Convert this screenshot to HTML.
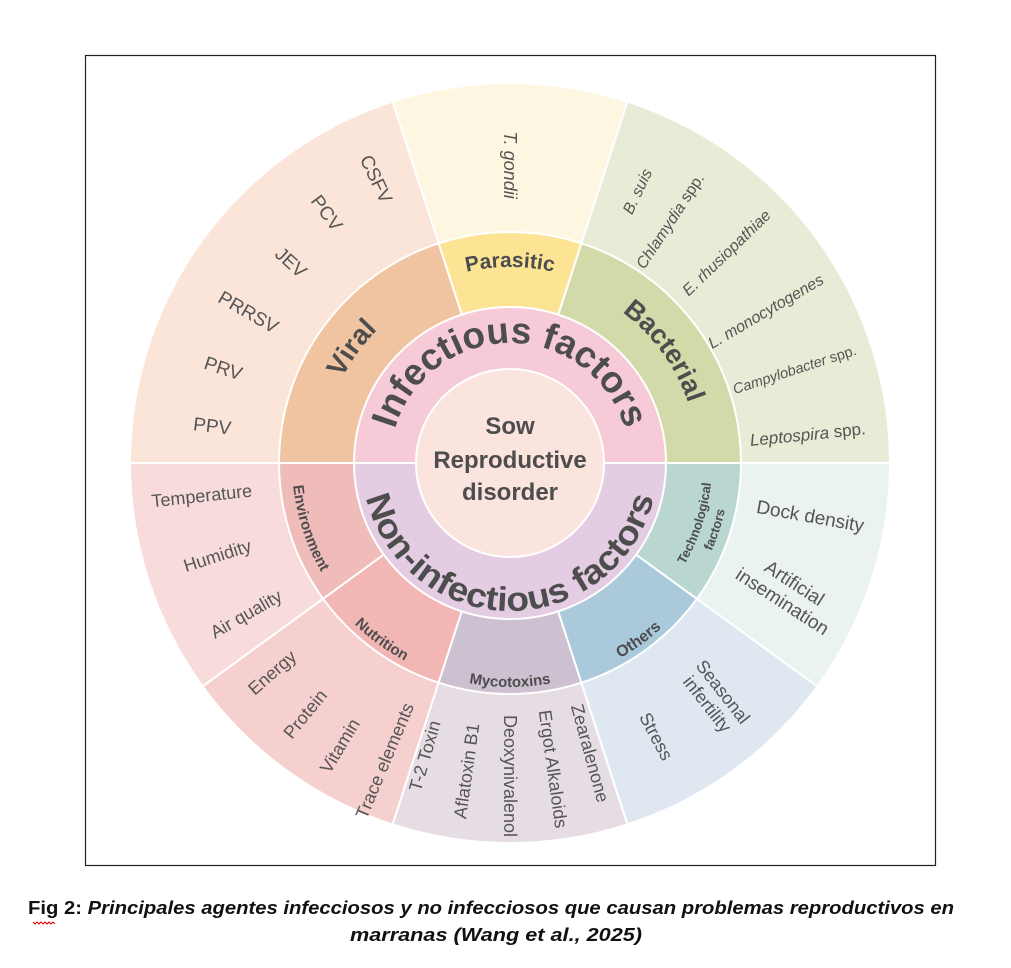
<!DOCTYPE html>
<html><head><meta charset="utf-8"><style>
html,body{margin:0;padding:0;background:#fff;}
svg{display:block;font-family:"Liberation Sans",sans-serif;}
</style></head><body>
<svg width="1011" height="968" viewBox="0 0 1011 968" xmlns="http://www.w3.org/2000/svg">
<rect x="0" y="0" width="1011" height="968" fill="#fff"/>
<rect x="85.5" y="55.5" width="850" height="810" fill="none" stroke="#222" stroke-width="1.2"/>
<defs>
 <path id="topInf" d="M390 463 A120 120 0 0 1 630 463"/>
 <path id="botInf" d="M362 463 A148 148 0 0 0 658 463"/>
 <path id="topCat" d="M314 463 A196 196 0 0 1 706 463"/>
 <path id="topCatB" d="M322 463 A188 188 0 0 1 698 463"/>
 <path id="botEnv" d="M292 463 A218 218 0 0 0 728 463"/>
 <path id="botCat" d="M286 463 A224 224 0 0 0 734 463"/>
 <path id="botTech1" d="M308 463 A202 202 0 0 0 712 463"/>
 <path id="botTech2" d="M290 463 A220 220 0 0 0 730 463"/>
</defs>
<g stroke="#fff" stroke-width="2">
 <path d="M510 463 L890 463 A380 380 0 0 0 627.4 101.6Z" fill="#e8ebd6"/>
 <path d="M510 463 L627.4 101.6 A380 380 0 0 0 392.6 101.6Z" fill="#fdf6e0"/>
 <path d="M510 463 L392.6 101.6 A380 380 0 0 0 130 463Z" fill="#fbe4d8"/>
 <path d="M510 463 L130 463 A380 380 0 0 0 202.6 686.4Z" fill="#f8dcdb"/>
 <path d="M510 463 L202.6 686.4 A380 380 0 0 0 392.6 824.4Z" fill="#f6d0ce"/>
 <path d="M510 463 L392.6 824.4 A380 380 0 0 0 627.4 824.4Z" fill="#e6dde4"/>
 <path d="M510 463 L627.4 824.4 A380 380 0 0 0 817.4 686.4Z" fill="#dfe8f1"/>
 <path d="M510 463 L817.4 686.4 A380 380 0 0 0 890 463Z" fill="#ebf3f1"/>
 <path d="M510 463 L741 463 A231 231 0 0 0 581.4 243.3Z" fill="#d3daaa"/>
 <path d="M510 463 L581.4 243.3 A231 231 0 0 0 438.6 243.3Z" fill="#fde495"/>
 <path d="M510 463 L438.6 243.3 A231 231 0 0 0 279 463Z" fill="#f0c4a0"/>
 <path d="M510 463 L279 463 A231 231 0 0 0 323.1 598.8Z" fill="#f0bcb9"/>
 <path d="M510 463 L323.1 598.8 A231 231 0 0 0 438.6 682.7Z" fill="#f2b6b4"/>
 <path d="M510 463 L438.6 682.7 A231 231 0 0 0 581.4 682.7Z" fill="#cdc0d0"/>
 <path d="M510 463 L581.4 682.7 A231 231 0 0 0 696.9 598.8Z" fill="#aacadc"/>
 <path d="M510 463 L696.9 598.8 A231 231 0 0 0 741 463Z" fill="#b9d6d1"/>
 <path d="M354 463 A156 156 0 0 1 666 463Z" fill="#f6cbd7"/>
 <path d="M354 463 A156 156 0 0 0 666 463Z" fill="#e4cde3"/>
 <circle cx="510" cy="463" r="94" fill="#fae4dd"/>
</g>
<g fill="#4d4d4d" font-weight="bold">
 <text font-size="37"><textPath href="#topInf" startOffset="50%" text-anchor="middle">Infectious factors</textPath></text>
 <text font-size="34"><textPath href="#botInf" startOffset="50%" text-anchor="middle" textLength="395" lengthAdjust="spacingAndGlyphs">Non-infectious  factors</textPath></text>
 <text font-size="28"><textPath href="#topCatB" startOffset="20%" text-anchor="middle">Viral</textPath></text>
 <text font-size="21"><textPath href="#topCat" startOffset="50%" text-anchor="middle">Parasitic</textPath></text>
 <text font-size="27"><textPath href="#topCatB" startOffset="80%" text-anchor="middle">Bacterial</textPath></text>
 <text font-size="15"><textPath href="#botEnv" startOffset="10%" text-anchor="middle">Environment</textPath></text>
 <text font-size="15"><textPath href="#botCat" startOffset="30%" text-anchor="middle">Nutrition</textPath></text>
 <text font-size="15"><textPath href="#botCat" startOffset="50%" text-anchor="middle">Mycotoxins</textPath></text>
 <text font-size="16"><textPath href="#botCat" startOffset="70%" text-anchor="middle">Others</textPath></text>
 <text font-size="13"><textPath href="#botTech1" startOffset="90%" text-anchor="middle">Technological</textPath></text>
 <text font-size="13"><textPath href="#botTech2" startOffset="90%" text-anchor="middle">factors</textPath></text>
 <text font-size="24" text-anchor="middle" x="510" y="434">Sow</text>
 <text font-size="24" text-anchor="middle" x="510" y="468">Reproductive</text>
 <text font-size="24" text-anchor="middle" x="510" y="500">disorder</text>
</g>
<g fill="#555" font-size="19" text-anchor="middle" dominant-baseline="central">
 <text transform="translate(510 463) rotate(-115.4) translate(314 0) rotate(180)">CSFV</text>
 <text transform="translate(510 463) rotate(-126.4) translate(310 0) rotate(180)">PCV</text>
 <text transform="translate(510 463) rotate(-137.7) translate(297 0) rotate(180)">JEV</text>
 <text transform="translate(510 463) rotate(-150.2) translate(302 0) rotate(180)">PRRSV</text>
 <text transform="translate(510 463) rotate(-161.9) translate(302 0) rotate(180)">PRV</text>
 <text transform="translate(510 463) rotate(-173.1) translate(300 0) rotate(180)">PPV</text>
 <text font-size="18" font-style="italic" transform="translate(510 463) rotate(-90) translate(298 0) rotate(180)">T. gondii</text>
 <text font-size="18" transform="translate(510 463) rotate(-186.1) translate(310 0) rotate(180)">Temperature</text>
 <text font-size="18" transform="translate(510 463) rotate(-197.6) translate(307 0) rotate(180)">Humidity</text>
 <text font-size="18" transform="translate(510 463) rotate(-209.8) translate(304 0) rotate(180)">Air quality</text>
 <text font-size="18" transform="translate(510 463) rotate(-221.4) translate(317 0) rotate(180)">Energy</text>
 <text font-size="18" transform="translate(510 463) rotate(-230.8) translate(324 0) rotate(180)">Protein</text>
 <text font-size="18" transform="translate(510 463) rotate(-239) translate(330 0) rotate(180)">Vitamin</text>
 <text font-size="18" transform="translate(510 463) rotate(-247.2) translate(323 0) rotate(180)">Trace elements</text>
 <text font-size="18" transform="translate(510 463) rotate(106.2) translate(305 0) rotate(180)">T-2 Toxin</text>
 <text font-size="18" transform="translate(510 463) rotate(98) translate(311 0) rotate(180)">Aflatoxin B1</text>
 <text font-size="18" transform="translate(510 463) rotate(90) translate(313 0)">Deoxynivalenol</text>
 <text font-size="18" transform="translate(510 463) rotate(82) translate(309 0)">Ergot Alkaloids</text>
 <text font-size="18" transform="translate(510 463) rotate(74.6) translate(301 0)">Zearalenone</text>
 <text font-size="18" transform="translate(510 463) rotate(61.9) translate(310 0)">Stress</text>
 <g transform="translate(715 698) rotate(52)">
  <text font-size="18" x="0" y="-10">Seasonal</text>
  <text font-size="18" x="0" y="10">infertility</text>
 </g>
 <text font-size="19" transform="translate(510 463) rotate(10.2) translate(305 0)">Dock density</text>
 <g transform="translate(788 593) rotate(33)">
  <text font-size="19" x="0" y="-11">Artificial</text>
  <text font-size="19" x="0" y="11">insemination</text>
 </g>
</g>
<g fill="#555" font-size="16" text-anchor="start" dominant-baseline="central">
 <text font-style="italic" transform="translate(510 463) rotate(-64.7) translate(276 0)">B. suis</text>
 <text transform="translate(510 463) rotate(-56.4) translate(235 0)"><tspan font-style="italic">Chlamydia</tspan> spp.</text>
 <text font-style="italic" transform="translate(510 463) rotate(-44) translate(244 0)">E. rhusiopathiae</text>
 <text font-style="italic" transform="translate(510 463) rotate(-30.5) translate(232 0)">L. monocytogenes</text>
 <text font-size="14.5" transform="translate(510 463) rotate(-18) translate(235 0)"><tspan font-style="italic">Campylobacter</tspan> spp.</text>
 <text font-size="17" transform="translate(510 463) rotate(-5.5) translate(241 0)"><tspan font-style="italic">Leptospira</tspan> spp.</text>
</g>
<g fill="#111" font-size="18" font-weight="bold">
 <text x="28" y="914" textLength="926" lengthAdjust="spacingAndGlyphs">Fig 2: <tspan font-style="italic">Principales agentes infecciosos y no infecciosos que causan problemas reproductivos en</tspan></text>
 <text x="350" y="941" font-style="italic" textLength="292" lengthAdjust="spacingAndGlyphs">marranas (Wang et al., 2025)</text>
</g>
<path d="M33 922 l2 2 l2 -2 l2 2 l2 -2 l2 2 l2 -2 l2 2 l2 -2 l2 2 l2 -2 l2 2" fill="none" stroke="#d00" stroke-width="1"/>
</svg>
</body></html>
